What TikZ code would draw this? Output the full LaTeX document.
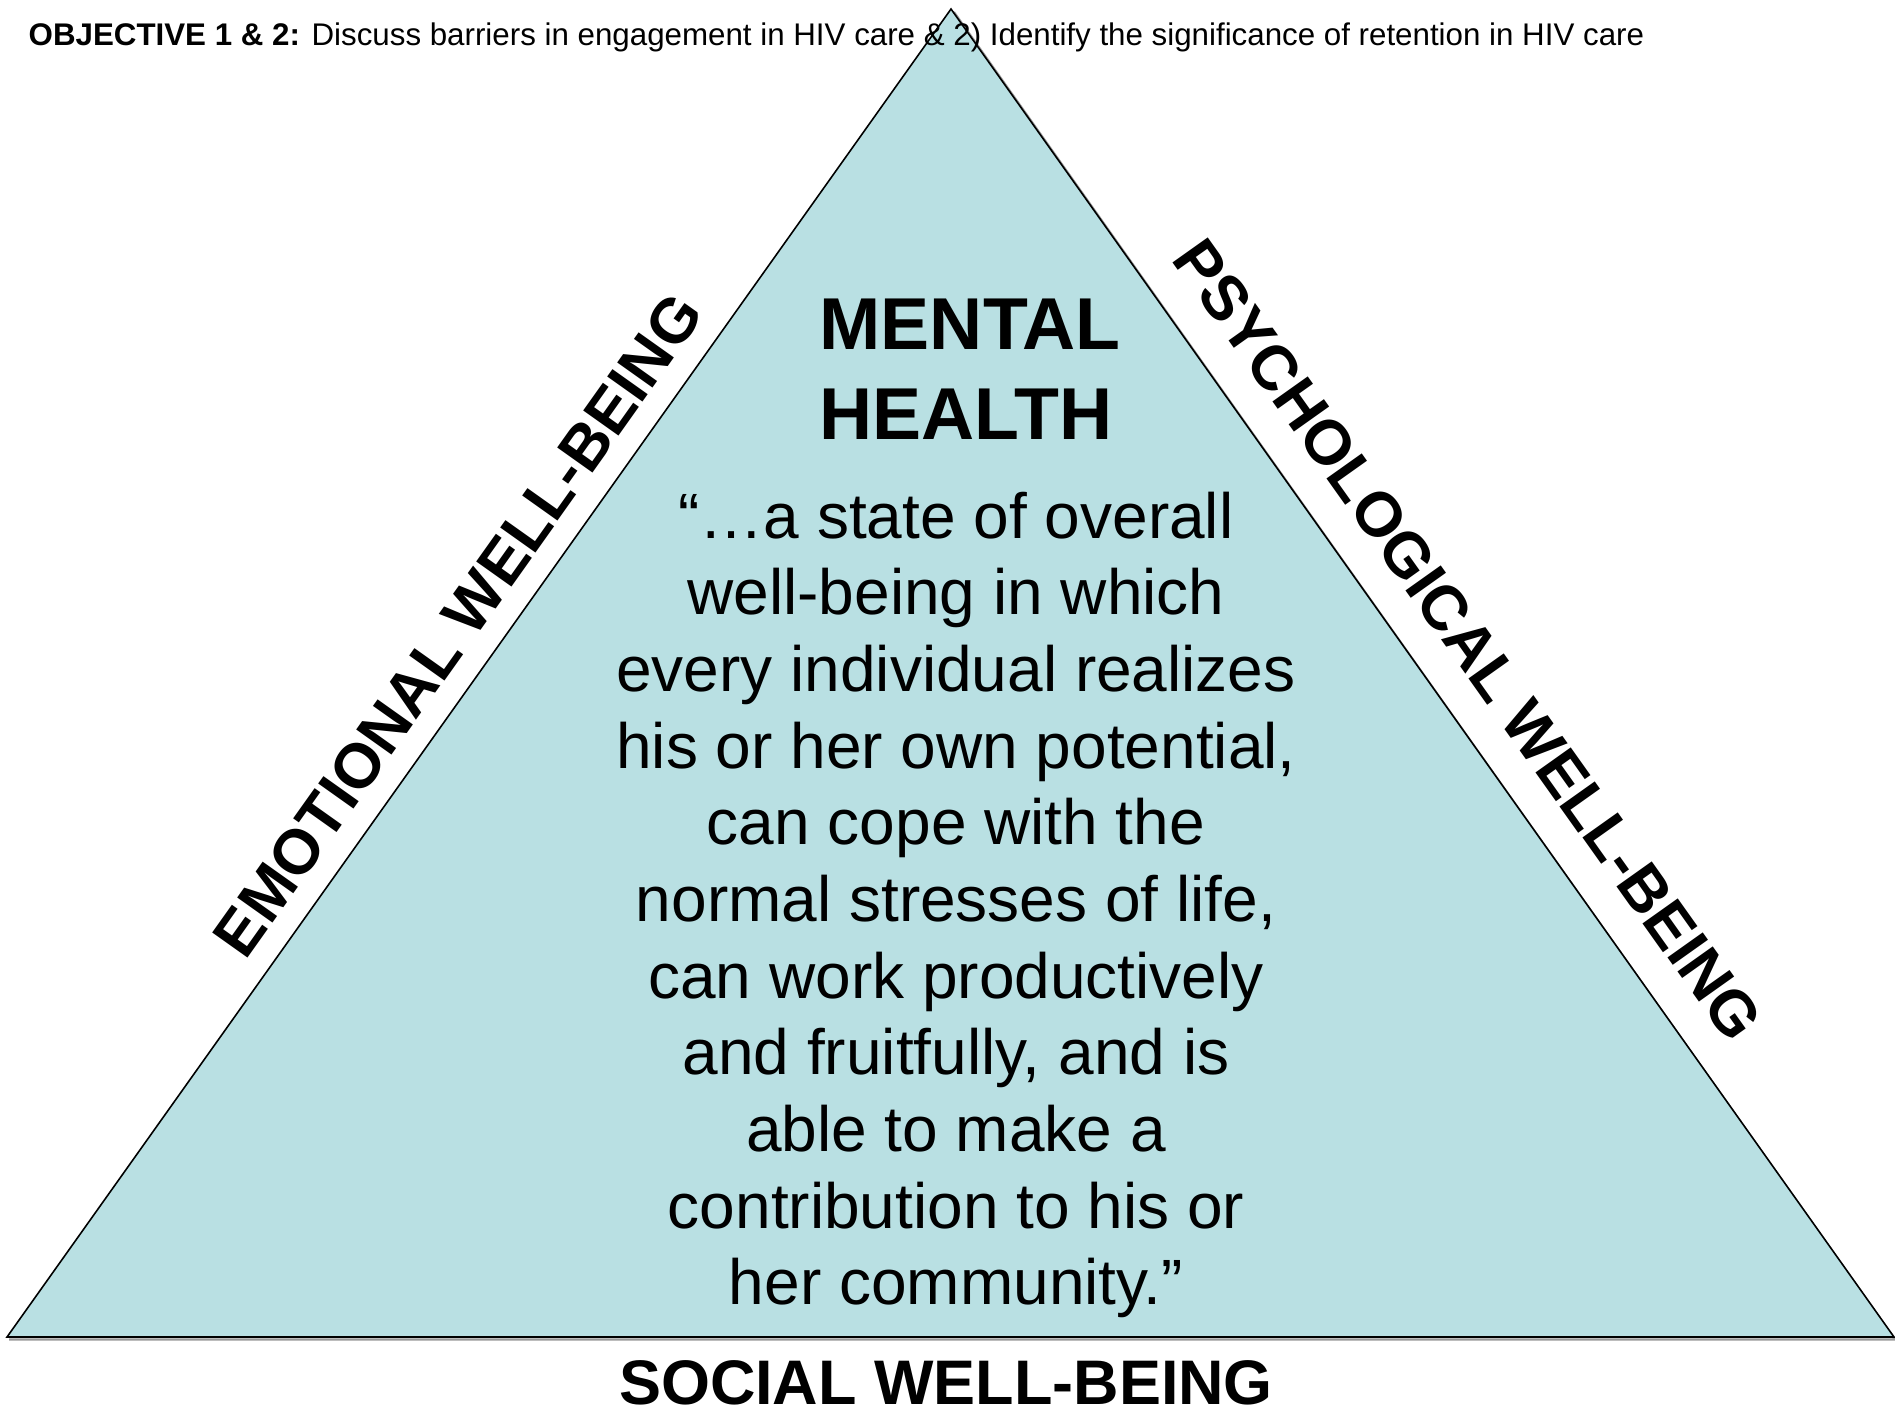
\documentclass[tikz,border=0pt]{standalone}
\usepackage{fontspec}
\setmainfont{Liberation Sans}
\definecolor{pyramid}{RGB}{185,224,227}
\newcommand{\wellbeing}[1]{#1 WELL-BEING}

\begin{document}
\begin{tikzpicture}[x=0.01cm, y=-0.01cm,
    side/.style={font=\fontsize{17.9}{21}\selectfont\bfseries, inner sep=0pt}]
    \useasboundingbox (0,0) rectangle (1895,1412);
    % pyramid with a faint shadow under it
    \draw[black!40, line width=0.6pt] (954,12) -- (1895,1339.5) -- (9,1339.5);
    \draw[fill=pyramid, line width=0.45pt] (951,9) -- (1894,1337) -- (7,1337) -- cycle;
    \node[anchor=base west, inner sep=0pt, font=\fontsize{8.9}{10}\selectfont] (objective) at (28,45)
      {\textbf{OBJECTIVE 1 \& 2:} Discuss barriers in engagement in HIV care \& 2) Identify the significance of retention in HIV care};
    \node[anchor=north west, inner sep=0pt, align=left, font=\fontsize{20.9}{25.6}\selectfont\bfseries] (mental) at (819,298)
      {MENTAL\\HEALTH};
    \node[anchor=north, inner sep=0pt, align=center, font=\fontsize{18.2}{21.8}\selectfont] (quote) at (956,491)
      {“…a state of overall\\well-being in which\\every individual realizes\\his or her own potential,\\can cope with the\\normal stresses of life,\\can work productively\\and fruitfully, and is\\able to make a\\contribution to his or\\her community.”};
    \node[side, rotate=54.6] (emotional) at (458,625) {\wellbeing{EMOTIONAL}};
    \node[side, rotate=-54.6] (psychological) at (1468,640) {\wellbeing{PSYCHOLOGICAL}};
    \node[side, anchor=base] (social) at (946,1404) {\wellbeing{SOCIAL}};
\end{tikzpicture}
\end{document}
